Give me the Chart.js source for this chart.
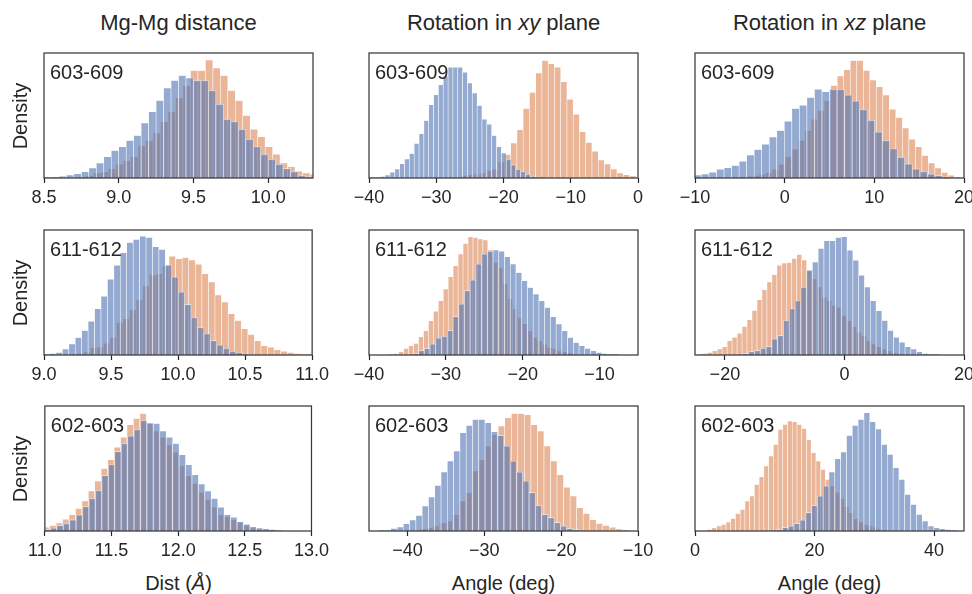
<!DOCTYPE html>
<html>
<head>
<meta charset="utf-8">
<script src="https://cdn.jsdelivr.net/npm/chart.js@4.4.1/dist/chart.umd.min.js"></script>
<style>
  html, body { margin:0; padding:0; background:#fff; overflow:hidden; }
  body { width:972px; height:594px; position:relative; font-family:"Liberation Sans", Arial, sans-serif; color:#262626; }
  canvas { position:absolute; }
  .title { position:absolute; top:12px; width:300px; font-size:22px; line-height:22px; text-align:center; white-space:nowrap; }
  .ylab { position:absolute; width:100px; height:20px; font-size:20px; line-height:20px; text-align:center; transform:rotate(-90deg); }
  .xlab { position:absolute; top:573px; width:200px; font-size:20px; line-height:20px; text-align:center; }
</style>
</head>
<body>
<script>
// ── data: bar heights per bin (share of panel height), bins as [first centre, width] ──
// blue = first trajectory set, orange = second

// Mg-Mg distance
var dist603Range = [8.5, 10.3];
var dist603Ticks = [8.5, 9.0, 9.5, 10.0];
var dist603Bins  = [8.525, 0.05, 8.755, 0.05];
var dist603Blue  = [0.5,1,1.5,2.5,3.5,5,8,12,17,22,25,30,34,44,53,62,72,78,82,80,78,78,70,59,47,45,39,31,25,19,15,11,7.5,5,2,1];
var dist603Orange = [1,2,4,5,7.5,11,14,17,26,30,36,45,53,64,74,86,86,94.5,88,82,70,62,50,39,33,25,19,12,9,5.5,4,3];

var dist611Range = [9.0, 11.0];
var dist611Ticks = [9.0, 9.5, 10.0, 10.5, 11.0];
var dist611Bins  = [9.017, 0.048, 9.173, 0.049];
var dist611Blue  = [0.8,1.3,2.1,4.8,8.8,14,19.6,27,37,47,60.6,71.8,81.8,90,92.5,95,94,86.6,84.5,72,62.5,50.4,40.5,30,22,17,11.5,8,5.4,3,2,1];
var dist611Orange = [0.3,0.8,1.5,2.5,6,6.5,9.5,14,26,29,36,44,55,64,65,71,79,77,78,76,72.6,65,58.4,48,42.4,33,27.6,21,16.4,11.5,7.5,6.2,4.3,3,2.1,1.3,0.8,0.5];

var dist602Range = [11.0, 13.0];
var dist602Ticks = [11.0, 11.5, 12.0, 12.5, 13.0];
var dist602Bins  = [11.017, 0.0483, 11.012, 0.0483];
var dist602Blue  = [1.3,2.4,4.5,5.8,8.9,12.9,19.5,26,32.4,44.5,53,63.7,70,76,81,88.4,86.5,86,80,75,70,61,53,45,37.6,32,26,19,13,11,7.5,5.5,3.5,2.4,1.8,1.3,0.8];
var dist602Orange = [3,4.5,6.5,9.5,13,18,24,32,40,50,57,67,75,85,90,94,86,80,75,69,63,52,44,38,31,25,19,13,11.5,9,7,4.5,2.5,1.5,0.8,0.5];

// Rotation in xy plane
var xy603Range = [-40, 0];
var xy603Ticks = [-40, -30, -20, -10, 0];
var xy603Bins  = [-39.4, 0.72, -29.63, 0.93];
var xy603Blue  = [0.5,0.8,1.3,2.4,4.6,7.3,11.5,15.3,19.6,27.7,35.5,46,58.6,66.7,74.7,81.5,88.7,88.7,88.7,84.7,76,68,58,47,43,34,25,20,15,10.5,7,5,3,1.5,1,0.5];
var xy603Orange = [0.3,0.5,0.8,1,2,2.7,3,4,6,7,13,18.8,28,38.7,55.6,68.5,84,94,91.4,88.7,77,63,51,37,28.5,21.5,14.5,11.3,7.3,4,2.7,1.6];

var xy611Range = [-40, -5];
var xy611Ticks = [-40, -30, -20, -10];
var xy611Bins  = [-33.93, 0.746, -37.1, 0.644];
var xy611Blue  = [1.3,3.5,5.3,8.8,13.6,15,19.5,30.7,40.8,51.5,60,72.8,80.8,83,84,83,78.7,72.8,66,59.5,54,48.8,43.5,38,30.7,24.8,19.5,14,10,7.5,5.3,3.5,2.1,1.3,0.8,0.5];
var xy611Orange = [0.8,1.3,2.7,5.3,7.5,9.3,14.6,19.5,27.5,35,43.5,52.8,62.7,71.5,80.8,89.3,94.7,94,92.8,92,84,74,70,57,45,37,30,25,19.5,14,11.5,8.5,6,5.3,3.5,2.7,1.6,0.8,0.3];

var xy602Range = [-45, -10];
var xy602Ticks = [-40, -30, -20, -10];
var xy602Bins  = [-43.4, 0.818, -37.96, 0.85];
var xy602Blue  = [0.5,0.8,2.1,3.2,5.9,8.8,12.5,20,27.2,36.5,47.2,56,64,78.7,84.5,89.3,89.3,86.7,79.5,76.5,68,56,47.2,40,30.7,20.5,13.3,10.7,6.7,4,2.1,1.1];
var xy602Orange = [1.9,2.7,4,6.7,8,13,24,30.7,48,57,68,77,84,90.7,94,94,93,85,80,68,56,45,35,28,18.7,14,9,6,4.5,3,1.6,1];

// Rotation in xz plane
var xz603Range = [-10, 20];
var xz603Ticks = [-10, 0, 10, 20];
var xz603Bins  = [-9.7, 0.84, -5.39, 0.726];
var xz603Blue  = [2.4,3.2,4.6,7,8.3,10,13.4,18.5,22.8,27,32.8,38,45.4,55.6,58.3,64.5,71,69,71,71,66.4,61.6,54.8,46.2,36.8,30,23.4,16.7,11.3,7.3,5,3.2,1.9,1];
var xz603Orange = [0.5,1,1.5,2,3,4.5,7,11,17,23,30,38,47,54,62,74,81.7,86.6,94,94,86,78.5,73,66.4,55,48.4,40,31,25,18,12,8,4.5,2.2,1];

var xz611Range = [-25, 20];
var xz611Ticks = [-20, 0, 20];
var xz611Bins  = [-17.48, 0.969, -24.2, 0.832];
var xz611Blue  = [0.8,1.3,2.7,3.5,5.4,6.7,12.9,15.5,27.6,37,43.4,54.2,67.8,74.5,85.3,91.4,91.4,94,94.6,83.9,75.9,63.8,54.4,43.4,35.4,27.6,19.6,14.2,10.2,6.7,4.8,2.7,1.3,0.8,0.5];
var xz611Orange = [0.8,1.3,2.1,3.5,4.8,6.7,11.5,14.2,17.4,22.8,28.2,35.7,44.2,52.3,58.4,64.3,71.8,73.7,74,77.2,80.4,76,68,61,54.4,46.4,43.4,39.7,38.3,31.6,27.6,22.8,18.2,15.5,11.5,8.8,6.7,4.8,3.5,2.1,1.3,0.8,0.5];

var xz602Range = [0, 45];
var xz602Ticks = [0, 20, 40];
var xz602Bins  = [13.15, 0.975, 2.41, 0.792];
var xz602Blue  = [0.8,1.3,2.7,4,6.1,8.8,14.7,20.5,28,36,47.2,57.9,63.2,76.5,84.5,89.3,94.7,87.5,81.6,69.3,61.3,50.7,41.3,29.3,21.3,13.3,8,4,2.7,1.9,1.3,0.8];
var xz602Orange = [1.3,2.7,4,5.3,7.2,10.1,14,17.3,24,28,37.3,43.5,52,60,69.3,81.3,85.3,88,87.5,85.3,82,73,62.7,56,49.3,41.3,36,31,26,19.5,14.7,9.9,7.2,5.3,4.5,3,2,1];

var pairLabels = ['603-609', '611-612', '602-603'];
var colTitles = ['Mg-Mg distance', 'Rotation in <i>xy</i> plane', 'Rotation in <i>xz</i> plane'];
var xTitles = ['Dist (<i>Å</i>)', 'Angle (deg)', 'Angle (deg)'];

// ── layout ──
var COL_LEFT = [44, 369, 695], ROW_TOP = [53, 230, 406];
var PLOT_W = 269, PLOT_H = 125;
var PAD_L = 20, PAD_R = 20, PAD_T = 10, AXIS_H = 40;
var BLUE = 'rgba(76,114,176,0.6)', ORANGE = 'rgba(221,132,82,0.6)', EDGE = 'rgba(255,255,255,0.75)';
var INK = '#262626', FONT = '"Liberation Sans", Arial, sans-serif';

var panels = [
    [{r:dist603Range,t:dist603Ticks,b:dist603Bins,blue:dist603Blue,orange:dist603Orange,dec:1},
     {r:xy603Range,t:xy603Ticks,b:xy603Bins,blue:xy603Blue,orange:xy603Orange,dec:0},
     {r:xz603Range,t:xz603Ticks,b:xz603Bins,blue:xz603Blue,orange:xz603Orange,dec:0}],
    [{r:dist611Range,t:dist611Ticks,b:dist611Bins,blue:dist611Blue,orange:dist611Orange,dec:1},
     {r:xy611Range,t:xy611Ticks,b:xy611Bins,blue:xy611Blue,orange:xy611Orange,dec:0},
     {r:xz611Range,t:xz611Ticks,b:xz611Bins,blue:xz611Blue,orange:xz611Orange,dec:0}],
    [{r:dist602Range,t:dist602Ticks,b:dist602Bins,blue:dist602Blue,orange:dist602Orange,dec:1},
     {r:xy602Range,t:xy602Ticks,b:xy602Bins,blue:xy602Blue,orange:xy602Orange,dec:0},
     {r:xz602Range,t:xz602Ticks,b:xz602Bins,blue:xz602Blue,orange:xz602Orange,dec:0}]
];

function histPoints(heights, first, width) {
    return heights.map(function(h, i){ return {x: first + i * width, y: h}; });
}

function fmtTick(v, dec) {
    return v.toFixed(dec).replace('-', '\u2212');
}

// frame round the plot area + pair label in the corner
var framePlugin = {
    id: 'frame',
    afterDatasetsDraw: function(chart, args, opts) {
        var a = chart.chartArea, ctx = chart.ctx;
        ctx.save();
        ctx.strokeStyle = '#3a3a3a';
        ctx.lineWidth = 1.25;
        ctx.strokeRect(a.left, a.top, a.right - a.left, a.bottom - a.top);
        ctx.fillStyle = INK;
        ctx.font = '20px ' + FONT;
        ctx.textBaseline = 'alphabetic';
        ctx.fillText(opts.text, a.left + 6, a.top + 26);
        ctx.restore();
    }
};

function addDiv(cls, html, left, top) {
    var d = document.createElement('div');
    d.className = cls;
    d.innerHTML = html;
    d.style.left = left + 'px';
    if (top !== null) d.style.top = top + 'px';
    document.body.appendChild(d);
    return d;
}

panels.forEach(function(row, ri) {
    row.forEach(function(p, ci) {
        var cv = document.createElement('canvas');
        cv.width = PLOT_W + PAD_L + PAD_R;
        cv.height = PLOT_H + PAD_T + AXIS_H;
        cv.style.left = (COL_LEFT[ci] - PAD_L) + 'px';
        cv.style.top = (ROW_TOP[ri] - PAD_T) + 'px';
        document.body.appendChild(cv);

        new Chart(cv, {
            type: 'bar',
            data: {datasets: [
                {data: histPoints(p.blue, p.b[0], p.b[1]), xAxisID: 'x', backgroundColor: BLUE, borderColor: EDGE,
                 borderWidth: 0.6, barPercentage: 1, categoryPercentage: 1, grouped: false, order: 0},
                {data: histPoints(p.orange, p.b[2], p.b[3]), xAxisID: 'x2', backgroundColor: ORANGE, borderColor: EDGE,
                 borderWidth: 0.6, barPercentage: 1, categoryPercentage: 1, grouped: false, order: 1}
            ]},
            options: {
                responsive: false, animation: false, events: [],
                layout: {padding: {left: PAD_L, right: PAD_R, top: PAD_T, bottom: 0}},
                plugins: {legend: {display: false}, tooltip: {enabled: false}, frame: {text: pairLabels[ri]}},
                scales: {
                    x: {type: 'linear', position: 'bottom', min: p.r[0], max: p.r[1], offset: false,
                        afterFit: function(s){ s.height = AXIS_H; },
                        afterBuildTicks: function(s){ s.ticks = p.t.map(function(v){ return {value: v}; }); },
                        grid: {display: true, offset: false, drawOnChartArea: false, drawTicks: true, tickLength: 5,
                               color: INK, tickColor: INK, tickWidth: 1.2},
                        border: {display: false},
                        ticks: {padding: 4, color: INK, font: {family: FONT, size: 18}, maxRotation: 0, autoSkip: false,
                                callback: function(v){ return fmtTick(v, p.dec); }}},
                    x2: {type: 'linear', display: false, min: p.r[0], max: p.r[1], offset: false},
                    y: {display: false, min: 0, max: 100}
                }
            },
            plugins: [framePlugin]
        });
    });
});

// titles and axis names
COL_LEFT.forEach(function(l, ci) {
    var mid = l + PLOT_W / 2;
    addDiv('title', colTitles[ci], mid - 150, null);
    addDiv('xlab', xTitles[ci], mid - 100, null);
});
ROW_TOP.forEach(function(t) {
    addDiv('ylab', 'Density', 20 - 50, t + PLOT_H / 2 - 10);
});
</script>
</body>
</html>
